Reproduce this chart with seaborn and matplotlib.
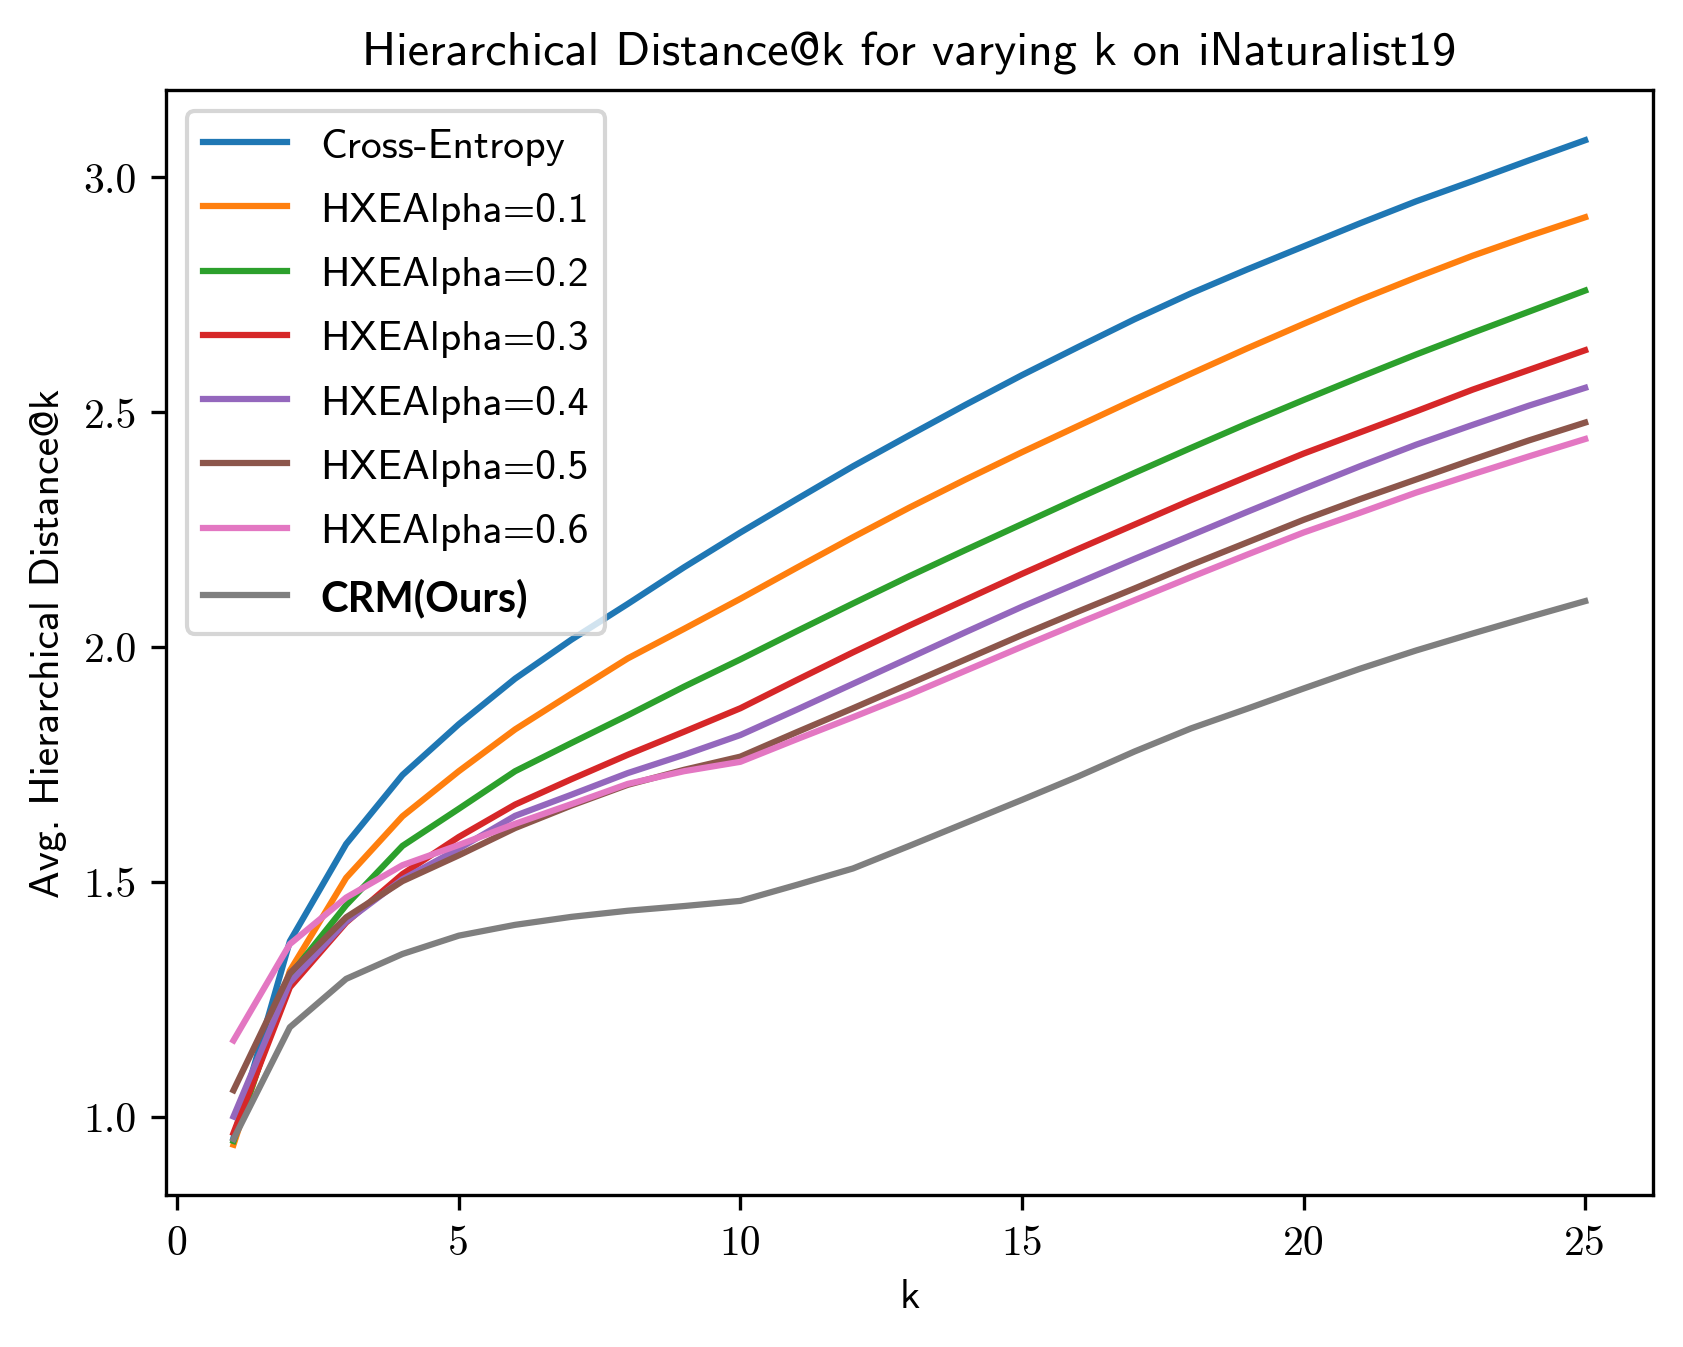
import matplotlib
matplotlib.use("Agg")
import matplotlib.pyplot as plt
import seaborn as sns

# k 轴
k = list(range(1, 26))

# 各方法在 k=1..25 的平均层级距离
cross_entropy = [0.955, 1.373, 1.580, 1.727, 1.835, 1.932, 2.015, 2.091, 2.169, 2.243,
                 2.314, 2.384, 2.450, 2.515, 2.578, 2.638, 2.697, 2.752, 2.803, 2.852,
                 2.901, 2.948, 2.991, 3.035, 3.078]
hxe_01 = [0.940, 1.310, 1.508, 1.639, 1.735, 1.824, 1.900, 1.975, 2.038, 2.102,
          2.168, 2.233, 2.296, 2.356, 2.414, 2.470, 2.526, 2.581, 2.635, 2.687,
          2.738, 2.786, 2.832, 2.874, 2.914]
hxe_02 = [0.948, 1.300, 1.450, 1.576, 1.655, 1.735, 1.795, 1.854, 1.915, 1.973,
          2.033, 2.092, 2.150, 2.206, 2.261, 2.316, 2.370, 2.423, 2.475, 2.525,
          2.574, 2.622, 2.668, 2.713, 2.758]
hxe_03 = [0.965, 1.275, 1.413, 1.516, 1.595, 1.664, 1.718, 1.770, 1.819, 1.869,
          1.929, 1.988, 2.045, 2.100, 2.155, 2.208, 2.260, 2.312, 2.362, 2.411,
          2.456, 2.501, 2.547, 2.589, 2.631]
hxe_04 = [1.000, 1.285, 1.415, 1.505, 1.570, 1.640, 1.685, 1.731, 1.770, 1.812,
          1.866, 1.921, 1.976, 2.031, 2.085, 2.136, 2.187, 2.237, 2.287, 2.336,
          2.384, 2.430, 2.472, 2.513, 2.551]
hxe_05 = [1.056, 1.305, 1.424, 1.501, 1.556, 1.614, 1.662, 1.706, 1.738, 1.766,
          1.818, 1.869, 1.921, 1.973, 2.025, 2.075, 2.124, 2.174, 2.222, 2.270,
          2.314, 2.356, 2.398, 2.439, 2.477]
hxe_06 = [1.162, 1.367, 1.466, 1.535, 1.578, 1.623, 1.665, 1.708, 1.735, 1.755,
          1.803, 1.850, 1.898, 1.949, 2.000, 2.050, 2.099, 2.148, 2.196, 2.243,
          2.285, 2.328, 2.367, 2.405, 2.442]
crm = [0.952, 1.190, 1.293, 1.346, 1.385, 1.408, 1.425, 1.438, 1.448, 1.459,
       1.493, 1.528, 1.576, 1.625, 1.674, 1.724, 1.777, 1.826, 1.868, 1.911,
       1.953, 1.992, 2.028, 2.063, 2.097]

series_names = ["Cross-Entropy", "HXEAlpha=0.1", "HXEAlpha=0.2", "HXEAlpha=0.3",
                "HXEAlpha=0.4", "HXEAlpha=0.5", "HXEAlpha=0.6", "CRM(Ours)"]
series_values = [cross_entropy, hxe_01, hxe_02, hxe_03, hxe_04, hxe_05, hxe_06, crm]

x_ticks = [0, 5, 10, 15, 20, 25]
y_ticks = [1.0, 1.5, 2.0, 2.5, 3.0]

plt.rcParams["font.family"] = ["cmss10", "DejaVu Sans"]
plt.rcParams["axes.unicode_minus"] = False

colors = sns.color_palette("tab10", len(series_names))

fig, ax = plt.subplots(figsize=(5.61, 4.4933))
fig.subplots_adjust(left=0.0986, right=0.982, top=0.9325, bottom=0.1128)

for name, vals, c in zip(series_names, series_values, colors):
    sns.lineplot(x=k, y=vals, ax=ax, color=c, label=name, linewidth=1.5)

ax.set_xticks(x_ticks, [str(t) for t in x_ticks], fontfamily="cmr10", fontsize=10)
ax.set_yticks(y_ticks, [f"{t:.1f}" for t in y_ticks], fontfamily="cmr10", fontsize=10)
ax.set_xlabel("k", fontsize=10)
ax.set_ylabel("Avg. Hierarchical Distance@k", fontsize=10)
ax.set_title("Hierarchical Distance@k for varying k on iNaturalist19", fontsize=11.6)

leg = ax.legend(loc="upper left", fontsize=10, labelspacing=0.65)
leg.get_texts()[-1].set_fontweight("bold")
leg.get_texts()[-1].set_fontfamily("Lato")

fig.savefig("out.png", dpi=300)
plt.close()
